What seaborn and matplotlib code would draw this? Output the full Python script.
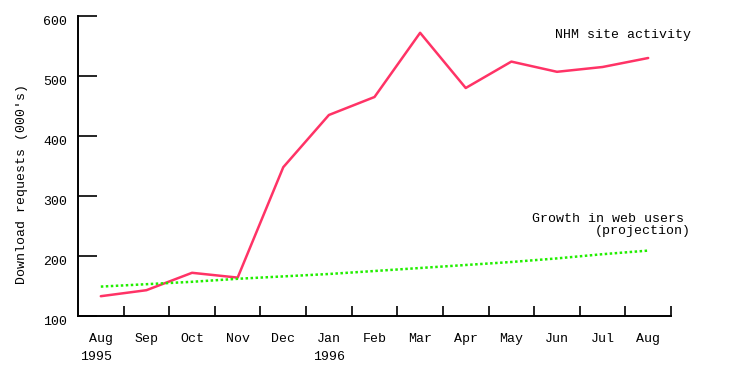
import matplotlib
matplotlib.use("Agg")
import matplotlib.pyplot as plt
import seaborn as sns
import pandas as pd

sns.set_style("white")
plt.rcParams['font.family'] = ['Liberation Mono', 'DejaVu Sans Mono']
plt.rcParams['text.color'] = 'black'
plt.rcParams['xtick.color'] = 'black'
plt.rcParams['ytick.color'] = 'black'

# months Aug 1995 .. Aug 1996
months = ["Aug", "Sep", "Oct", "Nov", "Dec", "Jan", "Feb", "Mar",
          "Apr", "May", "Jun", "Jul", "Aug"]
nhm_activity = [133, 143, 172, 164, 348, 435, 465, 572, 480, 524, 507, 515, 530]
web_growth = [149, 153, 157, 162, 166, 170, 175, 180, 185, 190, 196, 203, 209]
y_ticks = [100, 200, 300, 400, 500, 600]

df = pd.DataFrame({
    "pos": list(range(len(months))) * 2,
    "value": nhm_activity + web_growth,
    "series": ["NHM site activity"] * len(months) + ["Growth in web users"] * len(months),
})

W, H = 736, 371
fig = plt.figure(figsize=(W / 100, H / 100), dpi=100)
ax = fig.add_axes([78 / W, 1 - 316 / H, (671 - 78) / W, 300 / H])

sns.lineplot(data=df, x="pos", y="value", hue="series", style="series",
             palette={"NHM site activity": "#ff3366", "Growth in web users": "#22ee00"},
             dashes={"NHM site activity": "", "Growth in web users": (1, 1)},
             linewidth=1.8, legend=False, ax=ax)

ax.set_xlim(-0.5, len(months) - 0.5)
ax.set_ylim(100, 600)
ax.set_yticks(y_ticks)
ax.set_yticklabels([str(v) for v in y_ticks])

# month boundaries as ticks, names centred between them
ax.set_xticks([i + 0.5 for i in range(len(months))])
ax.set_xticklabels([])
ax.set_xticks(range(len(months)), minor=True)
ax.set_xticklabels(months, minor=True)

ax.tick_params(axis="y", direction="in", length=14, width=1.2, color="black",
               labelsize=9.5, pad=8, left=True, labelcolor="black")
ax.tick_params(axis="x", which="major", direction="in", length=7, width=1.2,
               color="black", bottom=True)
ax.tick_params(axis="x", which="minor", length=0, labelsize=9.5, pad=12,
               labelcolor="black")

for lab in ax.get_yticklabels():
    lab.set_va("top")

sns.despine(ax=ax)
for s in ["left", "bottom"]:
    ax.spines[s].set_color("black")
    ax.spines[s].set_linewidth(1.4)

ax.set_xlabel("")
ax.set_ylabel("")
fig.text(22 / W, 1 - 184 / H, "Download requests (000's)", rotation=90,
         ha="center", va="center", fontsize=9.5, color="black")

# year labels
trans = ax.get_xaxis_transform()
ax.text(-0.45, -0.115, "1995", transform=trans, ha="left", va="top",
        fontsize=9.5, color="black")
ax.text(5, -0.115, "1996", transform=trans, ha="center", va="top",
        fontsize=9.5, color="black")

# series annotations
fig.text(623 / W, 1 - 35 / H, "NHM site activity", ha="center", va="center",
         fontsize=9.5, color="black")
fig.text(608 / W, 1 - 219 / H, "Growth in web users", ha="center", va="center",
         fontsize=9.5, color="black")
fig.text(643 / W, 1 - 231 / H, "(projection)", ha="center", va="center",
         fontsize=9.5, color="black")

fig.savefig("out.png", dpi=100)
